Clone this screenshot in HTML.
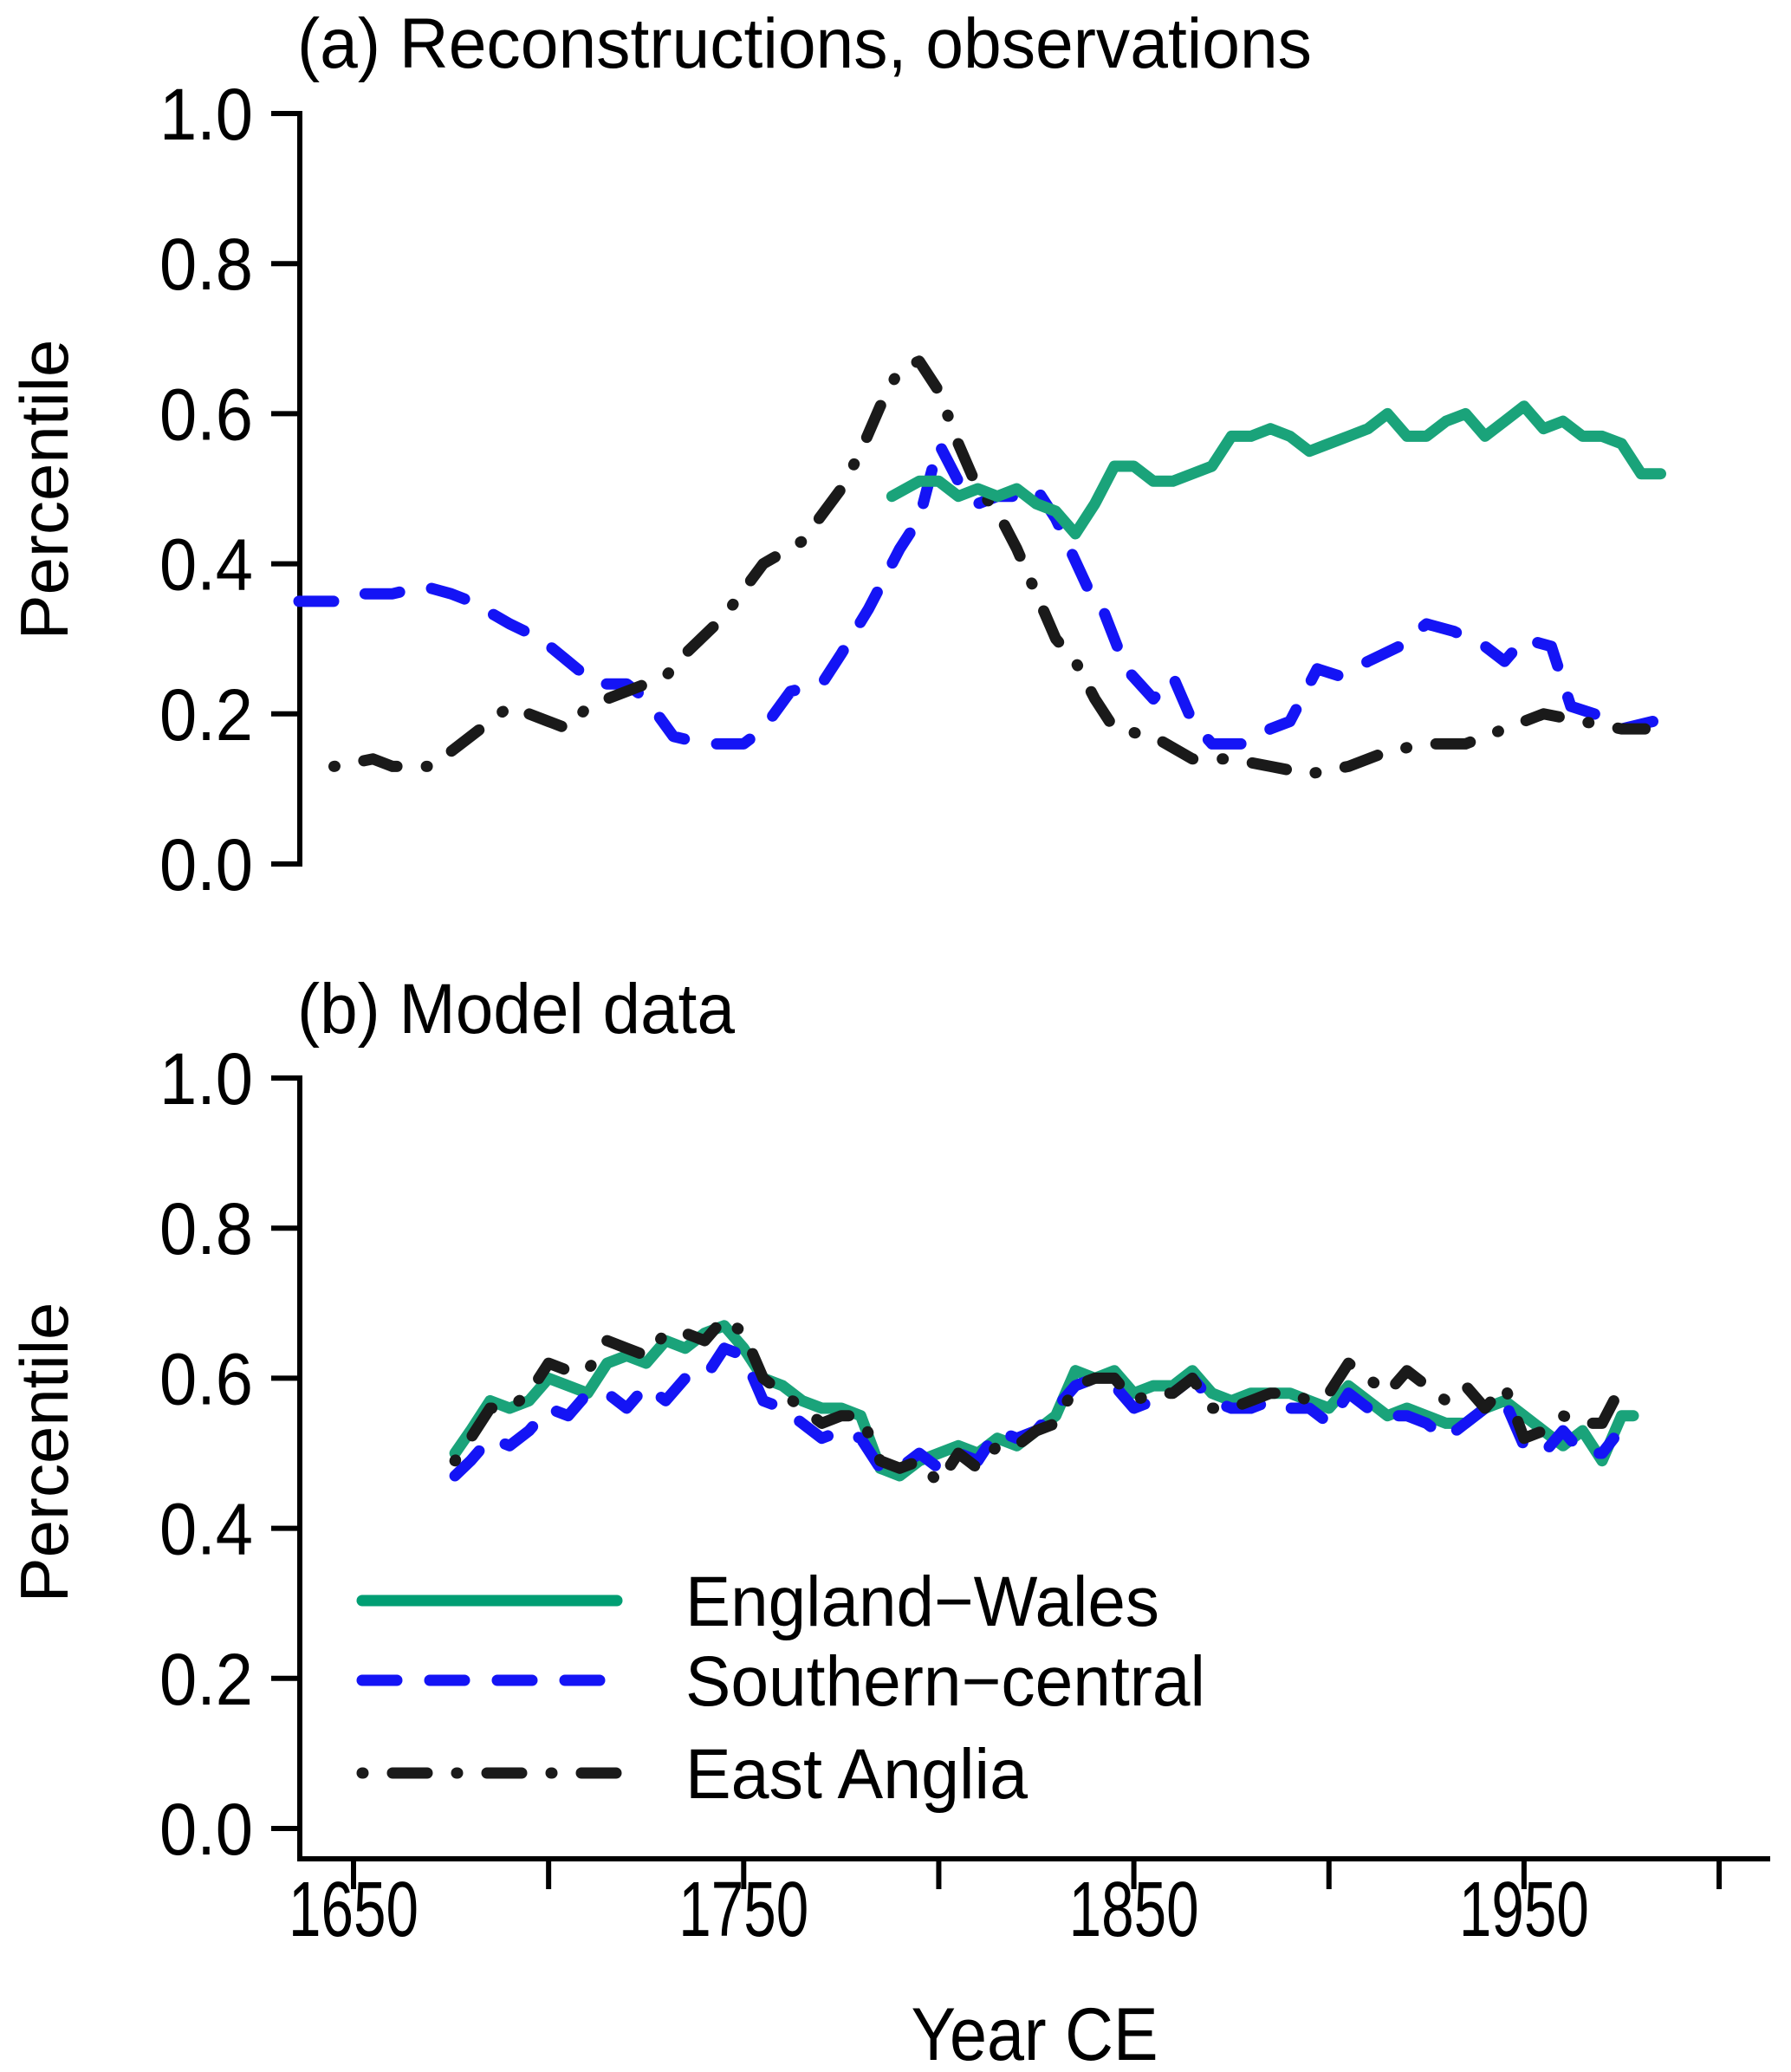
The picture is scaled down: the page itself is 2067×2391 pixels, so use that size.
<!DOCTYPE html>
<html><head><meta charset="utf-8"><style>
html,body{margin:0;padding:0;background:#fff;}
svg{display:block;font-family:"Liberation Sans",Arial,sans-serif;}
</style></head><body>
<svg id="chart" width="2067" height="2391" viewBox="0 0 2067 2391">
<g id="axes"></g>
<g id="series"></g>
</svg>
<script>
// Panel a
const aEW_years=[1788,1795,1800,1805,1810,1815,1820,1825,1830,1835,1840,1845,1850,1855,1860,1865,1870,1875,1880,1885,1890,1895,1900,1905,1910,1915,1920,1925,1930,1935,1940,1945,1950,1955,1960,1965,1970,1975,1980,1985];
const aEW=[0.49,0.51,0.51,0.49,0.50,0.49,0.50,0.48,0.47,0.44,0.48,0.53,0.53,0.51,0.51,0.52,0.53,0.57,0.57,0.58,0.57,0.55,0.56,0.57,0.58,0.60,0.57,0.57,0.59,0.60,0.57,0.59,0.61,0.58,0.59,0.57,0.57,0.56,0.52,0.52];
const aSC_years=[1636,1645,1650,1660,1668,1675,1680,1690,1698,1705,1712,1720,1725,1732,1740,1750,1755,1762,1770,1775,1782,1790,1795,1800,1805,1810,1815,1820,1825,1830,1838,1842,1848,1855,1860,1865,1870,1878,1885,1890,1897,1903,1910,1918,1925,1932,1940,1945,1950,1957,1962,1968,1975,1983];
const aSC=[0.35,0.35,0.36,0.36,0.37,0.36,0.35,0.32,0.30,0.27,0.24,0.24,0.22,0.17,0.16,0.16,0.18,0.23,0.24,0.28,0.34,0.42,0.46,0.56,0.51,0.48,0.49,0.49,0.50,0.46,0.37,0.34,0.26,0.22,0.25,0.19,0.16,0.16,0.18,0.19,0.26,0.25,0.27,0.29,0.32,0.31,0.29,0.27,0.30,0.29,0.21,0.20,0.18,0.19];
const aEA_years=[1645,1655,1660,1670,1680,1690,1700,1705,1710,1720,1730,1735,1745,1755,1765,1775,1780,1785,1790,1795,1800,1805,1810,1815,1820,1825,1830,1835,1840,1845,1855,1865,1875,1885,1895,1905,1915,1925,1935,1945,1955,1965,1975,1981];
const aEA=[0.13,0.14,0.13,0.13,0.17,0.21,0.19,0.18,0.21,0.23,0.25,0.28,0.33,0.40,0.43,0.50,0.55,0.61,0.66,0.67,0.63,0.56,0.50,0.47,0.42,0.36,0.30,0.27,0.22,0.18,0.17,0.14,0.14,0.13,0.12,0.13,0.15,0.16,0.16,0.18,0.20,0.19,0.18,0.18];
// Panel b
const bEW_years=[1676,1680,1685,1690,1695,1700,1705,1710,1715,1720,1725,1730,1735,1740,1745,1750,1755,1760,1765,1770,1775,1780,1785,1790,1795,1800,1805,1810,1815,1820,1825,1830,1835,1840,1845,1850,1855,1860,1865,1870,1875,1880,1885,1890,1895,1900,1905,1910,1915,1920,1925,1930,1935,1940,1945,1950,1955,1960,1965,1970,1975,1978];
const bEW=[0.50,0.53,0.57,0.56,0.57,0.60,0.59,0.58,0.62,0.63,0.62,0.65,0.64,0.66,0.67,0.64,0.60,0.59,0.57,0.56,0.56,0.55,0.48,0.47,0.49,0.50,0.51,0.50,0.52,0.51,0.53,0.55,0.61,0.60,0.61,0.58,0.59,0.59,0.61,0.58,0.57,0.58,0.58,0.58,0.57,0.56,0.59,0.57,0.55,0.56,0.55,0.54,0.54,0.56,0.57,0.55,0.53,0.51,0.53,0.49,0.55,0.55];
const bSC_years=[1676,1680,1685,1690,1695,1700,1705,1710,1715,1720,1725,1730,1735,1740,1745,1750,1755,1760,1765,1770,1775,1780,1785,1790,1795,1800,1805,1810,1815,1820,1825,1830,1835,1840,1845,1850,1855,1860,1865,1870,1875,1880,1885,1890,1895,1900,1905,1910,1915,1920,1925,1930,1935,1940,1945,1950,1955,1960,1965,1970,1973];
const bSC=[0.47,0.49,0.52,0.51,0.53,0.56,0.55,0.58,0.58,0.56,0.59,0.57,0.60,0.60,0.64,0.63,0.57,0.56,0.54,0.52,0.53,0.52,0.48,0.48,0.50,0.48,0.50,0.49,0.53,0.52,0.53,0.56,0.59,0.60,0.59,0.56,0.57,0.58,0.60,0.57,0.56,0.56,0.57,0.56,0.56,0.54,0.58,0.56,0.55,0.55,0.54,0.52,0.54,0.56,0.57,0.51,0.50,0.53,0.50,0.50,0.52];
const bEA_years=bSC_years;
const bEA=[0.49,0.52,0.56,0.56,0.58,0.62,0.61,0.61,0.65,0.64,0.63,0.66,0.66,0.65,0.68,0.66,0.60,0.58,0.56,0.54,0.55,0.55,0.49,0.48,0.49,0.46,0.50,0.48,0.51,0.51,0.53,0.54,0.59,0.60,0.60,0.57,0.58,0.58,0.60,0.56,0.56,0.57,0.58,0.58,0.57,0.58,0.62,0.60,0.58,0.61,0.59,0.57,0.59,0.56,0.59,0.52,0.53,0.55,0.54,0.54,0.57];
const xTicks=[1650,1700,1750,1800,1850,1900,1950,2000];
const xTickLabels=["1650","","1750","","1850","","1950",""];
const yTicks=[0,0.2,0.4,0.6,0.8,1.0];
const yTickLabels=["0.0","0.2","0.4","0.6","0.8","1.0"];

const NS="http://www.w3.org/2000/svg";
const axes=document.getElementById('axes'), ser=document.getElementById('series');
const xS=y=>408+(y-1650)*4.503;
const panels=[{top:131,bot:997,title:"(a) Reconstructions, observations",tLen:1171,ty:78,lab:565},
              {top:1244,bot:2110,title:"(b) Model data",tLen:505,ty:1192,lab:1676}];
function yS(p,v){return p.bot-(p.bot-p.top)*v;}
function mk(tag,attrs,parent){const e=document.createElementNS(NS,tag);for(const k in attrs)e.setAttribute(k,attrs[k]);parent.appendChild(e);return e;}

panels.forEach((p,i)=>{
  const ax=mk('line',{x1:346,x2:346,y1:p.top-3,y2:i?2148:p.bot+3,stroke:'#000','stroke-width':6},axes);
  
  
  yTicks.forEach((v,j)=>{
    const y=yS(p,v);
    const t=mk('line',{x1:313,x2:346,y1:y,y2:y,stroke:'#000','stroke-width':6},axes);
    
    
    const tx=mk('text',{x:292,y:y+30,'text-anchor':'end','font-size':84,textLength:108,lengthAdjust:'spacingAndGlyphs'},axes);
    tx.textContent=yTickLabels[j];
    
    
  });
  const ti=mk('text',{x:343,y:p.ty,'font-size':82,textLength:p.tLen,lengthAdjust:'spacingAndGlyphs'},axes);
  ti.textContent=p.title;
  
  
  const yl=mk('text',{x:0,y:0,'font-size':78,'text-anchor':'middle',transform:`translate(78,${p.lab}) rotate(-90)`},axes);
  yl.textContent='Percentile';
  
  
});
const xa=mk('line',{x1:343,x2:2043,y1:2145,y2:2145,stroke:'#000','stroke-width':6},axes);


xTicks.forEach((yr,j)=>{
  const x=xS(yr);
  const t=mk('line',{x1:x,x2:x,y1:2145,y2:2180,stroke:'#000','stroke-width':6},axes);
  
  
  if(xTickLabels[j]){
    const tx=mk('text',{x:x,y:2234,'text-anchor':'middle','font-size':90,textLength:150,lengthAdjust:'spacingAndGlyphs'},axes);
    tx.textContent=xTickLabels[j];
    
    
  }
});
const xt=mk('text',{x:1194,y:2377,'text-anchor':'middle','font-size':86,textLength:285,lengthAdjust:'spacingAndGlyphs'},axes);
xt.textContent='Year CE';



const styles={ew:{stroke:'#1aa37a',dash:''},sc:{stroke:'#1414f5',dash:'40 38'},ea:{stroke:'#1a1a1a',dash:'1 34 40 34'}};
function drawLine(p,xs,vs,st,name){
  const d=xs.map((yr,k)=>(k?'L':'M')+xS(yr).toFixed(1)+','+yS(p,vs[k]).toFixed(1)).join('');
  const e=mk('path',{d:d,fill:'none',stroke:st.stroke,'stroke-width':13,'stroke-linecap':'round','stroke-linejoin':'round'},ser);
  if(st.dash)e.setAttribute('stroke-dasharray',st.dash);
  
  
}
drawLine(panels[0],aSC_years,aSC,styles.sc,'series-a-southern-central');
drawLine(panels[0],aEA_years,aEA,styles.ea,'series-a-east-anglia');
drawLine(panels[0],aEW_years,aEW,styles.ew,'series-a-england-wales');
drawLine(panels[1],bEW_years,bEW,styles.ew,'series-b-england-wales');
drawLine(panels[1],bSC_years,bSC,styles.sc,'series-b-southern-central');
drawLine(panels[1],bEA_years,bEA,styles.ea,'series-b-east-anglia');

const leg=[['England\u2212Wales','ew',1847,547],['Southern\u2212central','sc',1939,600],['East Anglia','ea',2046,395]];
leg.forEach(l=>{
  const st=styles[l[1]];
  const e=mk('line',{x1:418,x2:712,y1:l[2],y2:l[2],stroke:l[1]==='ew'?'#009e73':st.stroke,'stroke-width':13,'stroke-linecap':'round'},ser);
  if(st.dash)e.setAttribute('stroke-dasharray',st.dash);
  
  
  const t=mk('text',{x:791,y:l[2]+29,'font-size':82,textLength:l[3],lengthAdjust:'spacingAndGlyphs'},ser);
  t.textContent=l[0];
  
  
});
</script>
</body></html>
